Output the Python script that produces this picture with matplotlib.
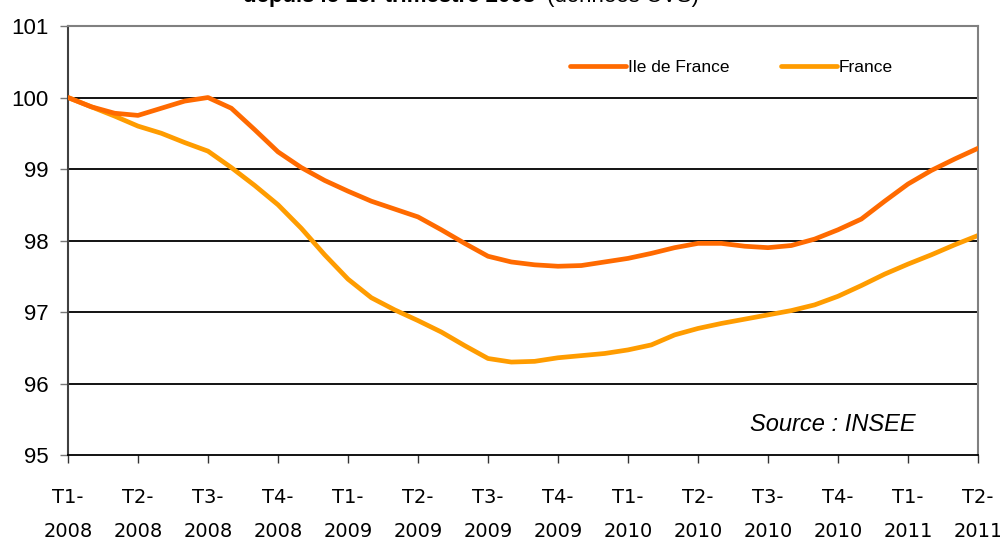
import matplotlib
matplotlib.use("Agg")
import matplotlib.pyplot as plt
import numpy as np

# Monthly index values, base 100 = T1-2008
idf = [100.0, 99.87, 99.78, 99.75, 99.85, 99.95, 100.0, 99.85, 99.55, 99.24,
       99.02, 98.84, 98.69, 98.55, 98.44, 98.33, 98.15, 97.96, 97.78, 97.70,
       97.66, 97.64, 97.65, 97.70, 97.75, 97.82, 97.90, 97.96, 97.96, 97.92,
       97.90, 97.93, 98.02, 98.15, 98.30, 98.55, 98.79, 98.98, 99.14, 99.29]
france = [100.0, 99.87, 99.74, 99.60, 99.50, 99.37, 99.25, 99.02, 98.77, 98.50,
          98.17, 97.80, 97.46, 97.20, 97.03, 96.88, 96.72, 96.53, 96.35, 96.30,
          96.31, 96.36, 96.39, 96.42, 96.47, 96.54, 96.68, 96.77, 96.84, 96.90,
          96.96, 97.02, 97.10, 97.22, 97.37, 97.53, 97.67, 97.80, 97.94, 98.07]
quarters = ["T1-\n2008", "T2-\n2008", "T3-\n2008", "T4-\n2008",
            "T1-\n2009", "T2-\n2009", "T3-\n2009", "T4-\n2009",
            "T1-\n2010", "T2-\n2010", "T3-\n2010", "T4-\n2010",
            "T1-\n2011", "T2-\n2011"]
y_ticks = [95, 96, 97, 98, 99, 100, 101]

x = np.arange(len(idf)) / 3.0  # months expressed in quarters

fig = plt.figure(figsize=(10, 5.42), dpi=100)
ax = fig.add_axes([0.068, 0.1605, 0.91, 0.7915])

for v in [96, 97, 98, 99, 100]:
    ax.axhline(v, color="black", lw=1.3, zorder=1)

ax.plot(x, idf, color="#FF6A00", lw=3.4, solid_capstyle="round", label="Ile de France", zorder=3)
ax.plot(x, france, color="#FF9C00", lw=3.4, solid_capstyle="round", label="France", zorder=2)

ax.set_xlim(0, len(quarters) - 1)
ax.set_ylim(95, 101)
ax.set_xticks(range(len(quarters)))
ax.set_xticklabels(quarters, fontfamily="DejaVu Sans", fontsize=14, linespacing=2.0)
ax.set_yticks(y_ticks)
ax.set_yticklabels([str(v) for v in y_ticks], fontfamily="Liberation Sans", fontsize=16)
ax.tick_params(axis="x", length=6, width=1, color="#333333", pad=18)
ax.tick_params(axis="y", length=6, width=1, color="#777777", pad=8)

for s in ["top", "right", "left"]:
    ax.spines[s].set_color("#808080")
    ax.spines[s].set_linewidth(1.5)
ax.spines["bottom"].set_color("black")
ax.spines["bottom"].set_linewidth(1.3)
ax.spines["left"].set_color("#404040")

ax.legend(loc="upper left", bbox_to_anchor=(0.535, 0.958), ncol=2, frameon=False,
          prop={"family": "Liberation Sans", "size": 12.5}, handlelength=3.2,
          handletextpad=0.1, columnspacing=3.0)

ax.text(0.931, 0.072, "Source : INSEE", transform=ax.transAxes, ha="right", va="center",
        fontfamily="Liberation Sans", fontstyle="italic", fontsize=17)

# title, mostly cut off at the top of the picture (as in the original)
fig.text(0.243, 0.996, "depuis le 1er trimestre 2008", fontfamily="Liberation Sans",
         fontweight="bold", fontsize=16, va="baseline")
fig.text(0.547, 0.996, "(données CVS)", fontfamily="Liberation Sans",
         fontsize=16, va="baseline")

fig.savefig("out.png", dpi=100)
